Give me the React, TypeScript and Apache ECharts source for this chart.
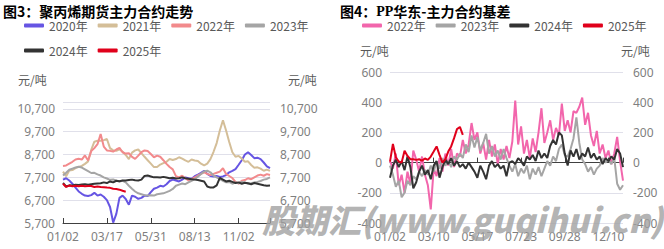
import React, { useEffect, useRef } from 'react';
import * as echarts from 'echarts';

const FONT = '"Noto Sans", "Noto Sans CJK SC", sans-serif';
const CJK = '"Noto Sans CJK SC", "Noto Sans", sans-serif';

// ---------- tick labels / categories ----------
const leftTickDates = ['01/02', '03/17', '05/31', '08/13', '11/02'];
const leftLastDate = '12/31';
const leftStep = 14;
const leftCount = 67;

const rightTickDates = ['01/02', '03/10', '05/17', '07/23', '09/28', '12/10'];
const rightLastDate = '12/31';
const rightStep = 15;
const rightCount = 81;

function dayOfYear(label: string) {
  const [m, d] = label.split('/').map(Number);
  return (Date.UTC(2023, m - 1, d) - Date.UTC(2023, 0, 1)) / 86400000;
}
function labelOf(day: number) {
  const dt = new Date(Date.UTC(2023, 0, 1) + day * 86400000);
  return `${String(dt.getUTCMonth() + 1).padStart(2, '0')}/${String(dt.getUTCDate()).padStart(2, '0')}`;
}
function buildCategories(ticks: string[], step: number, count: number, last: string) {
  const anchors = ticks.map((t, k) => [k * step, dayOfYear(t)]);
  anchors.push([count - 1, dayOfYear(last)]);
  const out: string[] = [];
  for (let i = 0; i < count; i++) {
    let k = 0;
    while (k < anchors.length - 2 && i > anchors[k + 1][0]) k++;
    const [i0, d0] = anchors[k];
    const [i1, d1] = anchors[k + 1];
    out.push(labelOf(Math.round(d0 + ((d1 - d0) * (i - i0)) / (i1 - i0))));
  }
  return out;
}
const leftCategories = buildCategories(leftTickDates, leftStep, leftCount, leftLastDate);
const rightCategories = buildCategories(rightTickDates, rightStep, rightCount, rightLastDate);

// ---------- left chart: PP futures main contract (元/吨) ----------
const leftNames = ['2020年', '2021年', '2022年', '2023年', '2024年', '2025年'];
const leftColors = ['#6655E3', '#D4BE98', '#F28A8C', '#A5A5A5', '#333333', '#E0001B'];

const price2020 = [
  7600, 7660, 7560, 7420, 7250, 7080, 6980, 6900, 6880, 6920,
  7020, 6900, 6950, 6850, 6700, 6400, 5720, 6100, 6800, 6900,
  6750, 6500, 6900, 6850, 6760, 6800, 6900, 6880, 7050, 7200,
  7250, 7330, 7300, 7400, 7540, 7600, 7560, 7520, 7600, 7700,
  7660, 7640, 7750, 7820, 7900, 7990, 7850, 7760, 7740, 7760,
  7720, 7740, 7800, 7920, 7980, 8060, 8250, 8450, 8700, 8800,
  8680, 8540, 8560, 8500, 8350, 8180, 8100,
];
const price2021 = [
  7950, 7750, 8000, 8020, 8100, 8160, 8200, 8290, 8400, 8900,
  9260, 9300, 9300, 9330, 9380, 8980, 8880, 8860, 8930, 8820,
  8680, 8500, 8780, 8880, 8920, 8760, 8600, 8450, 8300, 8150,
  8150, 8260, 8320, 8380, 8500, 8460, 8500, 8580, 8520, 8440,
  8380, 8480, 8440, 8420, 8300, 8220, 8300, 8500, 8820, 9200,
  9750, 10200, 9750, 9250, 8800, 8600, 8640, 8520, 8380, 8400,
  8240, 8120, 8140, 8080, 7990, 8040, 7980,
];
const price2022 = [
  8200, 8220, 8300, 8380, 8480, 8510, 8480, 8660, 8440, 8850,
  8980, 9150, 9600, 9050, 8880, 8860, 8830, 8920, 8990, 8800,
  8740, 8760, 8600, 8510, 8650, 8800, 8880, 8850, 8720, 8580,
  8650, 8600, 8450, 8290, 8150, 8050, 7750, 7700, 7770, 7660,
  7560, 7620, 7700, 7780, 7850, 7920, 7850, 7800, 7850, 7900,
  7950, 8100, 7850, 7760, 7670, 7500, 7420, 7550, 7580, 7660,
  7620, 7700, 7780, 7820, 7770, 7840, 7800,
];
const price2023 = [
  7780, 7900, 8030, 8080, 8130, 8160, 8130, 8050, 7970, 7890,
  7900, 7830, 7780, 7700, 7650, 7590, 7610, 7550, 7520, 7550,
  7480, 7330, 7200, 7080, 7000, 6960, 6920, 6900, 6920, 6900,
  6960, 6980, 7000, 7050, 7110, 7190, 7330, 7380, 7430, 7400,
  7480, 7550, 7620, 7730, 7850, 7960, 7990, 7920, 7780, 7700,
  7620, 7550, 7480, 7500, 7420, 7480, 7440, 7500, 7470, 7420,
  7440, 7480, 7500, 7540, 7600, 7630, 7700,
];
const price2024 = [
  7450, 7300, 7350, 7340, 7380, 7370, 7390, 7400, 7380, 7400,
  7420, 7430, 7440, 7480, 7450, 7520, 7480, 7550, 7530, 7560,
  7560, 7580, 7600, 7570, 7560, 7600, 7760, 7780, 7740, 7700,
  7700, 7690, 7720, 7690, 7660, 7680, 7650, 7660, 7700, 7660,
  7640, 7620, 7600, 7580, 7550, 7520, 7300, 7250, 7260, 7350,
  7680, 7600, 7520, 7550, 7500, 7450, 7480, 7420, 7460, 7440,
  7400, 7450, 7420, 7390, 7350, 7330, 7340,
];
const price2025 = [
  7420, 7280, 7340, 7310, 7330, 7310, 7330, 7310, 7320, 7320,
  7280, 7300, 7280, 7270, 7250, 7240, 7200, 7190, 7160, 7110, 7070,
];
const leftSeriesData = [price2020, price2021, price2022, price2023, price2024, price2025];

// ---------- right chart: PP East China basis (元/吨) ----------
const rightNames = ['2022年', '2023年', '2024年', '2025年'];
const rightColors = ['#F266AC', '#A5A5A5', '#333333', '#E0001B'];

const basis2022 = [
  10, -40, 60, -150, -80, -200, -60, -140, 80, 20,
  -60, 40, -80, -150, -310, -40, -90, 30, -60, 60,
  -20, 90, -30, 60, 40, 150, 60, 120, 262, 150,
  200, 60, 130, 20, 150, 40, 120, -10, 90, 20,
  110, 30, 140, 410, 120, 240, 60, 150, 30, 160,
  70, 200, 360, 130, 200, 280, 150, 230, 180, 390,
  210, 280, 200, 340, 330, 370, 430, 250, 330, 180,
  110, 210, 60, 120, 30, 80, -10, 60, 170, 10,
  -120,
];
const basis2023 = [
  -20, -80, -160, -120, -230, -200, -120, -150, -90, -110,
  -60, -90, -50, -80, -20, -60, 10, -40, 30, -20,
  10, -30, 40, 20, 60, 30, 120, 70, 180, 100,
  170, 80, 130, 190, 60, 110, 40, 80, 20, 90,
  30, -20, -60, -10, -90, -40, -70, -20, -110, -40,
  -80, -30, -90, -40, 10, -20, 40, 10, 90, 120,
  50, 40, 90, 160, 300, 130, 20, -10, -60, -30,
  -80, -40, -20, 30, 0, 20, -10, 30, -140, -180,
  -150,
];
const basis2024 = [
  -100, -20, 20, -30, 10, -50, 40, -30, -170, -130,
  -60, -20, -80, -50, -110, -20, 10, -100, -30, 20,
  -10, 30, -20, 10, -30, -10, -40, 0, -30, -60,
  -100, -20, -60, -110, -20, 10, -30, -10, -40, -20,
  -90, 0, 10, -10, 30, 10, -20, 40, 20, 50,
  10, 80, 30, 60, 30, 110, 150, 120, 200, 180,
  60, -20, 80, 40, 90, 20, 60, 40, 100, 30,
  60, 20, 40, -10, 30, 10, 40, 20, 90, 60,
  -30,
];
const basis2025 = [
  7, 124, 35, 7, 0, 78, 44, 22, 22, 18,
  22, 13, 27, 18, 40, 73, 107, 51, 0, 22,
  73, 107, 162, 222, 236, 184,
];
const rightSeriesData = [basis2022, basis2023, basis2024, basis2025];

const LABEL_COLOR = '#7f7f7f';
const GRID_COLOR = '#e0e0ea';
const AXIS_COLOR = '#404040';

function xAxisFor(gridIndex: number, cats: string[], step: number) {
  const last = cats.length - 1;
  return {
    type: 'category',
    gridIndex,
    data: cats,
    boundaryGap: false,
    axisLine: { lineStyle: { color: AXIS_COLOR, width: 1 } },
    axisTick: {
      inside: true,
      length: 5,
      interval: (i: number) => i % step === 0 || i === last,
      lineStyle: { color: AXIS_COLOR },
    },
    axisLabel: {
      interval: (i: number) => i % step === 0 && i !== last,
      color: LABEL_COLOR,
      fontSize: 12,
      fontFamily: FONT,
      margin: 7,
    },
    splitLine: { show: false },
  };
}

function yAxisFor(gridIndex: number, position: string, min: number, max: number, interval: number, split: boolean, hideMax: boolean, thousands: boolean) {
  return {
    type: 'value',
    gridIndex,
    position,
    min,
    max,
    interval,
    axisLine: { show: false },
    axisTick: { show: false },
    axisLabel: {
      color: LABEL_COLOR,
      fontSize: 12,
      fontFamily: FONT,
      margin: position === 'left' ? 8 : 10,
      showMaxLabel: !hideMax,
      formatter: (v: number) => (thousands ? v.toLocaleString('en-US') : String(v)),
    },
    splitLine: { show: split, lineStyle: { color: GRID_COLOR, width: 1 } },
  };
}

function legendFor(left: number, names: string[], colors: string[]) {
  return {
    left,
    top: 18,
    width: 300,
    orient: 'horizontal',
    icon: 'roundRect',
    itemWidth: 20,
    itemHeight: 4,
    itemGap: 10,
    padding: 0,
    selectedMode: false,
    textStyle: { fontSize: 12, color: '#595959', fontFamily: CJK, lineHeight: 15 },
    data: names.map((n, i) => ({ name: n, itemStyle: { color: colors[i] } })),
  };
}

function textEl(text: string, x: number, y: number, font: string, fill: string, extra: any = {}) {
  return {
    type: 'text',
    x,
    y,
    z: 50,
    style: { text, font, fill, textVerticalAlign: 'middle', ...extra },
  };
}

export default function App() {
  const ref = useRef<HTMLDivElement>(null);
  useEffect(() => {
    if (!ref.current) return;
    const chart = echarts.init(ref.current, undefined, { renderer: 'svg' });
    const series: any[] = [];
    leftSeriesData.forEach((d, i) => {
      series.push({
        type: 'line', name: leftNames[i], xAxisIndex: 0, yAxisIndex: 0, data: d,
        showSymbol: false, symbol: 'none', clip: false,
        lineStyle: { width: 2, color: leftColors[i] }, itemStyle: { color: leftColors[i] },
      });
    });
    rightSeriesData.forEach((d, i) => {
      series.push({
        type: 'line', name: rightNames[i], xAxisIndex: 1, yAxisIndex: 2, data: d,
        showSymbol: false, symbol: 'none',
        lineStyle: { width: 2, color: rightColors[i] }, itemStyle: { color: rightColors[i] },
      });
    });
    chart.setOption({
      animation: false,
      backgroundColor: '#ffffff',
      textStyle: { fontFamily: FONT },
      legend: [legendFor(24, leftNames, leftColors), legendFor(362, rightNames, rightColors)],
      grid: [
        { left: 63, right: 394, top: 102, bottom: 26 },
        { left: 390, right: 41, top: 72, bottom: 26 },
      ],
      xAxis: [xAxisFor(0, leftCategories, leftStep), xAxisFor(1, rightCategories, rightStep)],
      yAxis: [
        yAxisFor(0, 'left', 5700, 11000, 1000, true, true, true),
        yAxisFor(0, 'right', 5700, 11000, 1000, false, true, true),
        yAxisFor(1, 'left', -400, 600, 200, true, false, false),
        yAxisFor(1, 'right', -400, 600, 200, false, false, false),
      ],
      graphic: [
        textEl('图3：聚丙烯期货主力合约走势', 3, 11, `bold 14px ${CJK}`, '#000000'),
        {
          type: 'text', x: 340, y: 11, z: 50,
          style: {
            text: '{a|图4：}{b|PP}{a|华东-主力合约基差}',
            textVerticalAlign: 'middle',
            rich: {
              a: { fontSize: 14, fontWeight: 'bold', fontFamily: CJK, fill: '#000', color: '#000' },
              b: { fontSize: 14, fontWeight: 'bold', fontFamily: '"Liberation Serif", serif', fill: '#000', color: '#000' },
            },
          },
        },
        textEl('元/吨', 18, 79, `12px ${CJK}`, '#595959'),
        textEl('元/吨', 288, 79, `12px ${CJK}`, '#595959'),
        textEl('元/吨', 360, 50, `12px ${CJK}`, '#595959'),
        textEl('元/吨', 621, 50, `12px ${CJK}`, '#595959'),
        {
          type: 'text', x: 262, y: 219, z: 100,
          style: {
            text: '股期汇(www.guqihui.cn)',
            font: `italic 900 33px ${CJK}`,
            fill: 'rgba(160,160,160,0.8)',
            textVerticalAlign: 'middle',
          },
        },
      ],
      series,
    });
    return () => chart.dispose();
  }, []);
  return <div ref={ref} style={{ position: 'fixed', left: 0, top: 0, width: 664, height: 249 }} />;
}
